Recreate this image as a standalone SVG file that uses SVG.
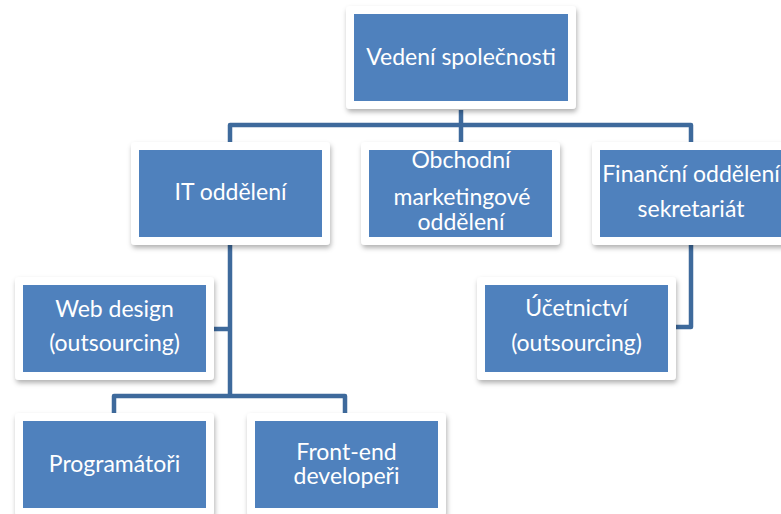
<svg xmlns="http://www.w3.org/2000/svg" width="781" height="514" viewBox="0 0 781 514">
<defs>
<filter id="sh" x="-10%" y="-10%" width="125%" height="130%">
<feDropShadow dx="1" dy="3" stdDeviation="2.5" flood-color="#000" flood-opacity="0.3"/>
</filter>
</defs>
<style>
.frame{fill:#fff;filter:url(#sh)}
.box{fill:#4F81BD}
.t{font-family:Lato,"Open Sans","Liberation Sans",sans-serif;font-size:23px;fill:#fff;text-anchor:middle}
.c{fill:none;stroke:#3E6A9C;stroke-width:4.5;stroke-linejoin:round}
</style>
<rect width="781" height="514" fill="#fff"/>
<g id="connectors">
<path class="c" d="M461 110 V142"/>
<path class="c" d="M230 143 V125 H691 V143"/>
<path class="c" d="M230 245 V396"/>
<path class="c" d="M214 329 H230"/>
<path class="c" d="M114 414 V396 H345 V414"/>
<path class="c" d="M691 245 V327 H676"/>
</g>
<g id="n-vedeni">
<rect class="frame" x="346" y="6" width="230" height="103" rx="4"/>
<rect class="box" x="354" y="14" width="214" height="87"/>
<text class="t" x="461" y="65">Vedení společnosti</text>
</g>
<g id="n-it">
<rect class="frame" x="131" y="142" width="199" height="103" rx="4"/>
<rect class="box" x="139" y="150" width="183" height="87"/>
<text class="t" x="230.5" y="200">IT oddělení</text>
</g>
<g id="n-obchodni">
<rect class="frame" x="361" y="142" width="199" height="103" rx="4"/>
<rect class="box" x="369" y="150" width="183" height="87"/>
<text class="t" x="461" y="168">Obchodní</text>
<text class="t" x="462" y="205">marketingové</text>
<text class="t" x="461" y="230">oddělení</text>
</g>
<g id="n-financni">
<rect class="frame" x="592" y="142" width="199" height="103" rx="4"/>
<rect class="box" x="600" y="150" width="183" height="87"/>
<text class="t" x="691" y="182">Finanční oddělení</text>
<text class="t" x="691" y="217">sekretariát</text>
</g>
<g id="n-webdesign">
<rect class="frame" x="15" y="277" width="199" height="103" rx="4"/>
<rect class="box" x="23" y="285" width="183" height="87"/>
<text class="t" x="114.5" y="317">Web design</text>
<text class="t" x="114.5" y="351">(outsourcing)</text>
</g>
<g id="n-ucetnictvi">
<rect class="frame" x="477" y="277" width="199" height="103" rx="4"/>
<rect class="box" x="485" y="285" width="183" height="87"/>
<text class="t" x="576.5" y="316">Účetnictví</text>
<text class="t" x="576.5" y="351">(outsourcing)</text>
</g>
<g id="n-programatori">
<rect class="frame" x="15" y="413" width="199" height="103" rx="4"/>
<rect class="box" x="23" y="421" width="183" height="87"/>
<text class="t" x="114.5" y="472">Programátoři</text>
</g>
<g id="n-frontend">
<rect class="frame" x="247" y="413" width="199" height="103" rx="4"/>
<rect class="box" x="255" y="421" width="183" height="87"/>
<text class="t" x="346.5" y="460">Front-end</text>
<text class="t" x="346.5" y="484">developeři</text>
</g>
</svg>
